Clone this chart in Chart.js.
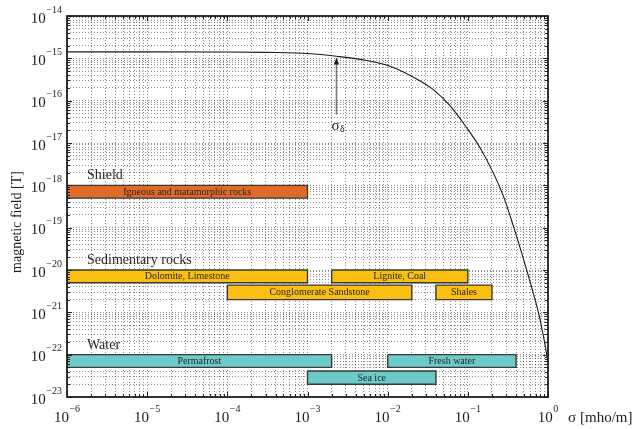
<!DOCTYPE html>
<html>
<head>
<meta charset="utf-8">
<script src="https://cdn.jsdelivr.net/npm/chart.js@4.4.0/dist/chart.umd.min.js"></script>
<style>
html,body{margin:0;padding:0;background:#fff;}
#wrap{width:634px;height:429px;position:relative;}
</style>
</head>
<body>
<div id="wrap"><canvas id="chart"></canvas></div>
<script>
// curve: field vs conductivity
const sigma = [1e-6, 1e-5, 1e-4, 3e-4, 1e-3, 2.3e-3, 5.5e-3, 1.07e-2, 2.3e-2, 3.71e-2, 5.98e-2, 9.68e-2, 0.142, 0.2075, 0.2768, 0.369, 0.516, 0.655, 0.794, 0.964, 1.0];
const field = [1.42e-15, 1.42e-15, 1.41e-15, 1.38e-15, 1.30e-15, 1.12e-15, 8.9e-16, 6.5e-16, 3.26e-16, 1.82e-16, 7.6e-17, 2.29e-17, 7.7e-18, 1.97e-18, 5.64e-19, 1.10e-19, 1.38e-20, 2.85e-21, 6.9e-22, 1.02e-22, 6.6e-23];

// conductivity ranges of the materials
const rockNames = ['Igneous and matamorphic rocks', 'Dolomite, Limestone', 'Lignite, Coal', 'Conglomerate Sandstone', 'Shales', 'Permafrost', 'Fresh water', 'Sea ice'];
const rockGroup = [0, 1, 1, 1, 1, 2, 2, 2];
const sigmaLow  = [1e-6, 1e-6, 2e-3, 1e-4, 4e-2, 1e-6, 1e-2, 1e-3];
const sigmaHigh = [1e-3, 1e-3, 1e-1, 2e-2, 2e-1, 2e-3, 4e-1, 4e-2];
const fieldHigh = [1e-18, 1e-20, 1e-20, 4.4e-21, 4.4e-21, 1e-22, 1e-22, 4.1e-23];
const fieldLow  = [5e-19, 5e-21, 5e-21, 2e-21, 2e-21, 5e-23, 5e-23, 2e-23];

const groupNames = ['Shield', 'Sedimentary rocks', 'Water'];
const groupColors = ['#e06a28', '#fbbf12', '#6ccbc8'];

// sigma_delta marker
const sigmaDelta = 2.3e-3;
const arrowFrom = 4.7e-17;
const arrowTo = 1.05e-15;

// decades for tick labels
const xDecades = [-6, -5, -4, -3, -2, -1, 0];
const yDecades = [-23, -22, -21, -20, -19, -18, -17, -16, -15, -14];

const SERIF = '"Liberation Serif", "Times New Roman", serif';

function logTicks(decades){
  const t = [];
  decades.forEach(function(e, i){
    if (i === decades.length - 1) { t.push({value: Number('1e' + e)}); return; }
    for (let m = 1; m <= 9; m++) t.push({value: Number(m + 'e' + e)});
  });
  return t;
}
function isDecade(v){
  const l = Math.log10(v);
  return Math.abs(l - Math.round(l)) < 1e-9;
}

const datasets = [{
  data: sigma.map(function(s, i){ return {x: s, y: field[i]}; }),
  borderColor: '#1a1a1a', borderWidth: 1.1, pointRadius: 0,
  cubicInterpolationMode: 'monotone', fill: false
}];
rockNames.forEach(function(n, i){
  const lo = sigmaLow[i], hi = sigmaHigh[i], top = fieldHigh[i], bot = fieldLow[i];
  datasets.push({
    data: [{x: lo, y: top}, {x: hi, y: top}, {x: hi, y: bot}, {x: lo, y: bot}, {x: lo, y: top}],
    fill: 'shape', backgroundColor: groupColors[rockGroup[i]],
    borderColor: '#383838', borderWidth: 1.4, pointRadius: 0, tension: 0
  });
});

function drawPow(ctx, e, x, y, align){
  ctx.font = '15px ' + SERIF;
  const wb = ctx.measureText('10').width;
  const es = e < 0 ? '\u2212' + (-e) : String(e);
  ctx.font = '10px ' + SERIF;
  const we = ctx.measureText(es).width;
  const total = wb + 0.5 + we;
  let x0 = x;
  if (align === 'right') x0 = x - total;
  if (align === 'center') x0 = x - total / 2;
  ctx.textAlign = 'left';
  ctx.textBaseline = 'alphabetic';
  ctx.font = '15px ' + SERIF;
  ctx.fillText('10', x0, y);
  ctx.font = '10px ' + SERIF;
  ctx.fillText(es, x0 + wb + 0.5, y - 10);
}

const decor = {
  id: 'decor',
  afterDatasetsDraw(chart){
    const ctx = chart.ctx, xs = chart.scales.x, ys = chart.scales.y;
    ctx.save();
    ctx.fillStyle = '#262626';
    // text inside the bars
    ctx.font = '10px ' + SERIF;
    ctx.textAlign = 'center';
    ctx.textBaseline = 'middle';
    rockNames.forEach(function(n, i){
      const cx = xs.getPixelForValue(Math.sqrt(sigmaLow[i] * sigmaHigh[i]));
      const cy = ys.getPixelForValue(Math.sqrt(fieldLow[i] * fieldHigh[i]));
      ctx.fillText(n, cx, cy + 0.5);
    });
    // group captions
    ctx.font = '14px ' + SERIF;
    ctx.textAlign = 'left';
    ctx.textBaseline = 'alphabetic';
    groupNames.forEach(function(g, gi){
      const first = rockGroup.indexOf(gi);
      ctx.fillText(g, chart.chartArea.left + 20, ys.getPixelForValue(fieldHigh[first]) - 6);
    });
    // sigma_delta arrow
    const ax = xs.getPixelForValue(sigmaDelta);
    const y0 = ys.getPixelForValue(arrowFrom), y1 = ys.getPixelForValue(arrowTo);
    ctx.strokeStyle = '#7a7a7a';
    ctx.lineWidth = 1.6;
    ctx.beginPath(); ctx.moveTo(ax, y0); ctx.lineTo(ax, y1 + 6); ctx.stroke();
    ctx.fillStyle = '#202020';
    ctx.beginPath(); ctx.moveTo(ax, y1); ctx.lineTo(ax - 2.6, y1 + 7); ctx.lineTo(ax + 2.6, y1 + 7); ctx.closePath(); ctx.fill();
    ctx.font = '15px ' + SERIF;
    ctx.fillText('\u03c3', ax - 5, y0 + 15);
    const ws = ctx.measureText('\u03c3').width;
    ctx.font = '10px ' + SERIF;
    ctx.fillText('\u03b4', ax - 5 + ws + 0.5, y0 + 17);
    ctx.restore();
  },
  afterDraw(chart){
    const ctx = chart.ctx, xs = chart.scales.x, ys = chart.scales.y, a = chart.chartArea;
    ctx.save();
    // inward tick marks on all four sides
    ctx.strokeStyle = '#222';
    ctx.lineWidth = 1;
    ctx.beginPath();
    xs.ticks.forEach(function(t){
      const px = Math.round(xs.getPixelForValue(t.value)) + 0.5;
      const len = isDecade(t.value) ? 5 : 3;
      ctx.moveTo(px, a.bottom); ctx.lineTo(px, a.bottom - len);
      ctx.moveTo(px, a.top); ctx.lineTo(px, a.top + len);
    });
    ys.ticks.forEach(function(t){
      const py = Math.round(ys.getPixelForValue(t.value)) + 0.5;
      const len = isDecade(t.value) ? 5 : 3;
      ctx.moveTo(a.left, py); ctx.lineTo(a.left + len, py);
      ctx.moveTo(a.right, py); ctx.lineTo(a.right - len, py);
    });
    ctx.stroke();
    // frame
    ctx.lineWidth = 1.8;
    ctx.strokeStyle = '#1e1e1e';
    ctx.strokeRect(a.left, a.top, a.right - a.left, a.bottom - a.top);
    // tick labels
    ctx.fillStyle = '#1e1e1e';
    xDecades.forEach(function(e){
      drawPow(ctx, e, xs.getPixelForValue(Number('1e' + e)), a.bottom + 24.7, 'center');
    });
    yDecades.forEach(function(e){
      drawPow(ctx, e, a.left - 5, ys.getPixelForValue(Number('1e' + e)) + 6.8, 'right');
    });
    // axis titles
    ctx.font = '15px ' + SERIF;
    ctx.textAlign = 'left';
    ctx.fillText('\u03c3', a.right + 20, a.bottom + 24.7);
    ctx.fillText('[mho/m]', a.right + 32, a.bottom + 24.7);
    ctx.save();
    ctx.translate(17, 222);
    ctx.rotate(-Math.PI / 2);
    ctx.font = '14px ' + SERIF;
    ctx.textAlign = 'center';
    ctx.textBaseline = 'middle';
    ctx.fillText('magnetic field [T]', 0, 0);
    ctx.restore();
    ctx.restore();
  }
};

const gridStyle = {color: 'rgba(0,0,0,0.45)', lineWidth: 1, drawTicks: false};

new Chart(document.getElementById('chart'), {
  type: 'line',
  data: {datasets: datasets},
  options: {
    responsive: true,
    maintainAspectRatio: false,
    animation: false,
    events: [],
    layout: {padding: {left: 67, right: 86, top: 16, bottom: 32}},
    plugins: {legend: {display: false}, tooltip: {enabled: false}},
    scales: {
      x: {
        type: 'logarithmic', min: 1e-6, max: 1,
        afterBuildTicks: function(s){ s.ticks = logTicks(xDecades); },
        ticks: {display: false},
        grid: gridStyle,
        border: {display: false, dash: [1, 2]}
      },
      y: {
        type: 'logarithmic', min: 1e-23, max: 1e-14,
        afterBuildTicks: function(s){ s.ticks = logTicks(yDecades); },
        ticks: {display: false},
        grid: gridStyle,
        border: {display: false, dash: [1, 2]}
      }
    }
  },
  plugins: [decor]
});
</script>
</body>
</html>
